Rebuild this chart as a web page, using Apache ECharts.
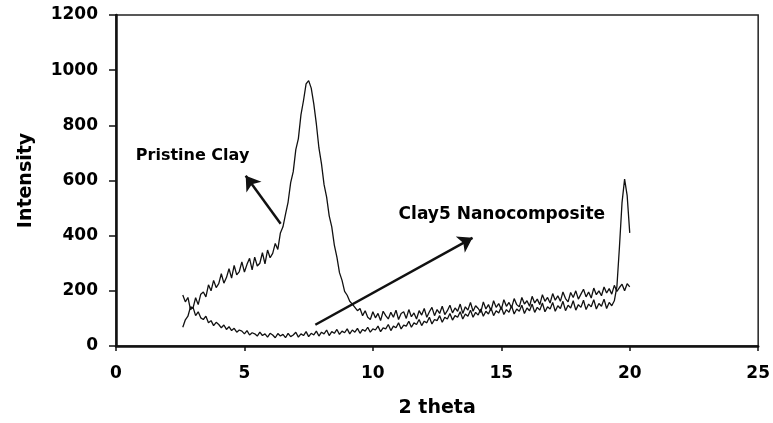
<!DOCTYPE html>
<html>
<head>
<meta charset="utf-8">
<script src="https://cdn.jsdelivr.net/npm/echarts@6/dist/echarts.min.js"></script>
<style>html,body{margin:0;padding:0;background:#fff}#c{width:773px;height:423px}</style>
</head>
<body>
<div id="c"></div>
<script>
// Sampling grid for both scans: 2θ from 2.6 to 20.0 in steps of 0.1
const THETA_START = 2.6;
const THETA_STEP = 0.1;

// Pristine clay intensity
const pristineClay = [
  68, 95, 108, 142, 138, 175, 150, 188, 196, 178,
  222, 200, 238, 212, 226, 262, 228, 248, 280, 246,
  292, 258, 270, 305, 268, 296, 318, 276, 322, 290,
  300, 338, 298, 348, 320, 336, 372, 350, 410, 432,
  478, 522, 592, 632, 712, 752, 838, 890, 950, 962,
  935, 878, 805, 718, 660, 585, 540, 472, 432, 366,
  322, 266, 238, 198, 184, 162, 152, 140, 128, 136,
  110, 128, 104, 96, 124,
  102, 118, 92, 126, 110, 98, 122, 104, 130, 96,
  118, 124, 100, 132, 106, 120, 98, 128, 112, 136,
  104, 124, 140, 110, 132, 118, 144, 114, 128, 148,
  120, 138, 126, 152, 118, 142, 130, 158, 126, 146,
  136, 122, 160, 134, 150, 128, 164, 140, 154, 132,
  168, 144, 158, 138, 172, 150, 142, 176, 152, 164,
  144, 180, 156, 170, 150, 186, 162, 176, 156, 190,
  166, 182, 162, 196, 172, 160, 194, 176, 200, 170,
  188, 206, 178, 196, 174, 210, 186, 200, 182, 214,
  192, 208, 188, 220, 198, 212, 224, 200, 226, 214
];

// Clay5 nanocomposite intensity
const clay5Nano = [
  185, 160, 176, 132, 140, 110, 124, 102, 96, 108,
  84, 92, 74, 86, 78, 66, 76, 60, 70, 56,
  64, 50, 58, 54, 44, 56, 40, 48, 44, 36,
  50, 38, 44, 32, 46, 40, 30, 45, 36, 42,
  30, 46, 34, 40, 50, 32, 44, 38, 52, 34,
  46, 40, 54, 36, 50, 44, 58, 38, 52, 46,
  60, 42, 54, 48, 62, 44, 58, 50, 64, 46,
  60, 54, 68, 50, 62, 58, 72, 52, 66, 62,
  78, 56, 72, 66, 84, 62, 76, 72, 90, 68,
  84, 78, 96, 74, 90, 84, 104, 80, 96, 92,
  110, 86, 104, 98, 118, 94, 110, 104, 124, 98,
  116, 108, 130, 104, 122, 112, 134, 108, 126, 116,
  138, 110, 128, 120, 142, 114, 132, 122, 146, 116,
  134, 126, 148, 118, 138, 128, 152, 122, 140, 130,
  156, 124, 142, 134, 158, 126, 146, 136, 162, 128,
  148, 138, 164, 130, 150, 140, 166, 132, 152, 142,
  168, 134, 154, 144, 170, 136, 158, 146, 164, 215,
  360, 520, 605, 545, 410
];

// Axis ticks
const xTicks = [0, 5, 10, 15, 20, 25];
const yTicks = [0, 200, 400, 600, 800, 1000, 1200];

// Annotations (data coordinates): arrow [tail, head] and text label anchors
const pristineArrow = [[6.41, 443], [5.05, 617]];
const nanoArrow = [[7.76, 77], [13.88, 392]];
const pristineLabel = { text: 'Pristine Clay', at: [2.98, 688] };
const nanoLabel = { text: 'Clay5 Nanocomposite', at: [15.02, 477] };

function pairs(vals) {
  return vals.map((v, i) => [+(THETA_START + i * THETA_STEP).toFixed(2), v]);
}

const FONT = 'DejaVu Sans';
const chart = echarts.init(document.getElementById('c'), null, { renderer: 'canvas' });
chart.setOption({
  animation: false,
  backgroundColor: '#fff',
  grid: { left: 116, right: 12, top: 15, bottom: 75, show: true, borderColor: '#222', borderWidth: 1.5, backgroundColor: 'transparent' },
  xAxis: {
    type: 'value', min: xTicks[0], max: xTicks[xTicks.length - 1], interval: 5,
    name: '2 theta', nameLocation: 'middle', nameGap: 53,
    nameTextStyle: { fontFamily: FONT, fontWeight: 'bold', fontSize: 19, color: '#000' },
    axisLine: { show: true, lineStyle: { color: '#111', width: 2.5 } },
    axisTick: { show: true, length: 5, lineStyle: { color: '#111', width: 1.5 } },
    axisLabel: { fontFamily: FONT, fontWeight: 'bold', fontSize: 17, color: '#000', margin: 19,
      formatter: v => String(v) },
    splitLine: { show: false }
  },
  yAxis: {
    type: 'value', min: yTicks[0], max: yTicks[yTicks.length - 1], interval: 200,
    name: 'Intensity', nameLocation: 'middle', nameGap: 80, nameRotate: 90,
    nameTextStyle: { fontFamily: FONT, fontWeight: 'bold', fontSize: 19, color: '#000' },
    axisLine: { show: true, lineStyle: { color: '#111', width: 2.5 } },
    axisTick: { show: true, length: 7, lineStyle: { color: '#111', width: 1.5 } },
    axisLabel: { fontFamily: FONT, fontWeight: 'bold', fontSize: 17, color: '#000', margin: 18,
      formatter: v => String(v) },
    splitLine: { show: false }
  },
  series: [
    {
      name: 'Pristine Clay', type: 'line', data: pairs(pristineClay),
      showSymbol: false, symbol: 'none', lineStyle: { color: '#111', width: 1.3 }, z: 3
    },
    {
      name: 'Clay5 Nanocomposite', type: 'line', data: pairs(clay5Nano),
      showSymbol: false, symbol: 'none', lineStyle: { color: '#111', width: 1.3 }, z: 3
    },
    {
      type: 'lines', coordinateSystem: 'cartesian2d',
      symbol: ['none', 'arrow'], symbolSize: [0, 14],
      lineStyle: { color: '#111', width: 2.5, opacity: 1 },
      data: [{ coords: pristineArrow }, { coords: nanoArrow }], z: 4
    },
    {
      type: 'scatter', symbolSize: 0, z: 5,
      itemStyle: { opacity: 1 },
      label: {
        show: true, position: 'inside', formatter: p => p.name,
        fontFamily: FONT, fontWeight: 'bold', color: '#000', opacity: 1
      },
      data: [
        { name: pristineLabel.text, value: pristineLabel.at, label: { fontSize: 16 } },
        { name: nanoLabel.text, value: nanoLabel.at, label: { fontSize: 17 } }
      ]
    }
  ]
});
</script>
</body>
</html>
